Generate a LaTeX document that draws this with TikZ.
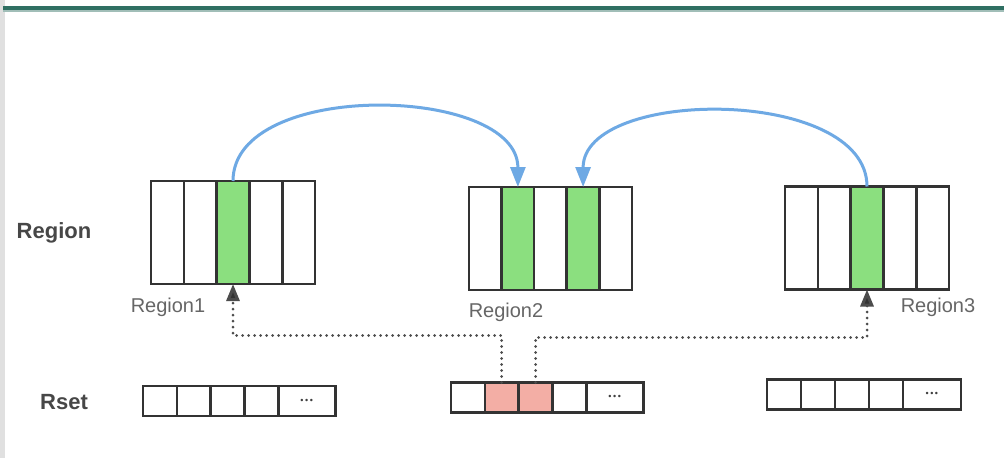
\documentclass[tikz,border=0pt]{standalone}
\usepackage{fontspec}
\setsansfont{Liberation Sans}
\usepackage{xcolor}
\usetikzlibrary{arrows.meta,positioning}
\definecolor{live}{HTML}{8BDF7F}
\definecolor{card}{HTML}{F3AEA5}
\definecolor{reuse}{HTML}{6EA9E4}
\definecolor{banner}{HTML}{2F6F62}
\definecolor{caption}{HTML}{666666}
\newcommand{\more}{\fontsize{9}{9}\selectfont\textbullet\hspace{1.5pt}\textbullet\hspace{1.5pt}\textbullet}

\begin{document}
\begin{tikzpicture}[x=1pt,y=-1pt,font=\sffamily,
  cell/.style={draw=black!80,line width=2.6pt,fill=#1,minimum width=32.8pt,minimum height=103pt,inner sep=0pt,outer sep=0pt},cell/.default=white,
  slot/.style={draw=black!80,line width=2.6pt,fill=#1,minimum width=33.8pt,minimum height=30pt,inner sep=0pt,outer sep=0pt,text=black!75},slot/.default=white,
  tag/.style={text=caption,font=\sffamily\fontsize{20}{22}\selectfont},
  side/.style={text=black!72,font=\sffamily\bfseries\fontsize{22}{24}\selectfont},
  link/.style={draw=reuse,line width=3pt,-{Triangle[length=20pt,width=15pt,fill=reuse]}},
  hint/.style={draw=black!70,line width=3pt,line cap=round,dash pattern=on 0pt off 6pt,-{Triangle[length=17pt,width=13pt,fill=black!80]}}]
  \useasboundingbox (0,0) rectangle (1004,458);
  \fill[white] (0,0) rectangle (1004,458);
  \fill[black!12] (0,0) rectangle (5,458);
  \draw[banner,line width=3.5pt] (3,8) -- (1004,8);
  \draw[banner!45,line width=1.2pt] (3,11) -- (1004,11);
  % regions
  \foreach \i/\c in {1/white,2/white,3/live,4/white,5/white}
    \node[cell=\c] (a\i) at ({151+32.8*(\i-0.5)},232.5) {};
  \foreach \i/\c in {1/white,2/live,3/white,4/live,5/white}
    \node[cell=\c] (b\i) at ({469+32.6*(\i-0.5)},238.5) {};
  \foreach \i/\c in {1/white,2/white,3/live,4/white,5/white}
    \node[cell=\c] (c\i) at ({785+32.8*(\i-0.5)},238) {};
  % remembered sets
  \foreach \i/\c in {1/white,2/white,3/white,4/white}
    \node[slot=\c] (p\i) at ({143+33.8*(\i-0.5)},401) {};
  \node[slot,minimum width=57pt,right=0pt of p4] (p5) {\more};
  \foreach \i/\c in {1/white,2/card,3/card,4/white}
    \node[slot=\c] (q\i) at ({451+33.8*(\i-0.5)},397.5) {};
  \node[slot,minimum width=57pt,right=0pt of q4] (q5) {\more};
  \foreach \i/\c in {1/white,2/white,3/white,4/white}
    \node[slot=\c] (u\i) at ({767+34*(\i-0.5)},394.5) {};
  \node[slot,minimum width=58pt,right=0pt of u4] (u5) {\more};
  % labels
  \node[tag] (n1) at (168,307) {Region1};
  \node[tag] (n2) at (506,312) {Region2};
  \node[tag] (n3) at (938,307) {Region3};
  \node[side] (rg) at (54,233) {Region};
  \node[side] (rs) at (64,402) {Rset};
  % references
  \draw[link] (a3.north) .. controls +(0,-102) and +(0,-102) .. (b2.north);
  \draw[link] (c3.north) .. controls +(0,-100) and +(0,-100) .. (b4.north);
  \draw[hint] (q2.north) -- ++(0,-47) -| (a3.south);
  \draw[hint] (q3.north) -- ++(0,-45) -| (c3.south);
\end{tikzpicture}
\end{document}
